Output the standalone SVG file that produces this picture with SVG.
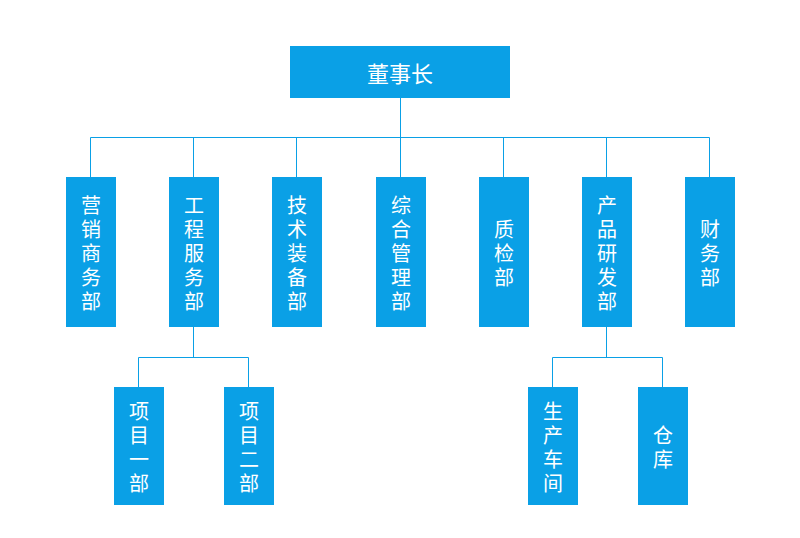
<svg xmlns="http://www.w3.org/2000/svg" width="800" height="538" viewBox="0 0 800 538">
<style>
.n{fill:#0aa0e6}
.t{fill:#fff;font-family:"Noto Sans CJK SC",sans-serif;font-size:20px;text-anchor:middle;dominant-baseline:central}
.c{stroke:#0aa0e6;stroke-width:1;fill:none}
</style>
<rect width="800" height="538" fill="#fff"/>
<g id="connectors" class="c">
<path d="M400.5 98V137.5M90.5 177V137.5H709.5V177M193.5 137.5V177M296.5 137.5V177M400.5 137.5V177M503.5 137.5V177M606.5 137.5V177"/>
<path d="M193.5 327V357.5M138.5 387V357.5H248.5V387"/>
<path d="M606.5 327V357.5M552.5 387V357.5H662.5V387"/>
</g>
<g id="n0"><rect class="n" x="290" y="46" width="220" height="52"/><text class="t" x="400" y="72" style="font-size:22px">董事长</text></g>
<g id="n1"><rect class="n" x="66" y="177" width="50" height="150"/><text class="t"><tspan x="91" y="204">营</tspan><tspan x="91" y="228">销</tspan><tspan x="91" y="252">商</tspan><tspan x="91" y="276">务</tspan><tspan x="91" y="300">部</tspan></text></g>
<g id="n2"><rect class="n" x="169" y="177" width="50" height="150"/><text class="t"><tspan x="194" y="204">工</tspan><tspan x="194" y="228">程</tspan><tspan x="194" y="252">服</tspan><tspan x="194" y="276">务</tspan><tspan x="194" y="300">部</tspan></text></g>
<g id="n3"><rect class="n" x="272" y="177" width="50" height="150"/><text class="t"><tspan x="297" y="204">技</tspan><tspan x="297" y="228">术</tspan><tspan x="297" y="252">装</tspan><tspan x="297" y="276">备</tspan><tspan x="297" y="300">部</tspan></text></g>
<g id="n4"><rect class="n" x="376" y="177" width="50" height="150"/><text class="t"><tspan x="401" y="204">综</tspan><tspan x="401" y="228">合</tspan><tspan x="401" y="252">管</tspan><tspan x="401" y="276">理</tspan><tspan x="401" y="300">部</tspan></text></g>
<g id="n5"><rect class="n" x="479" y="177" width="50" height="150"/><text class="t"><tspan x="504" y="228">质</tspan><tspan x="504" y="252">检</tspan><tspan x="504" y="276">部</tspan></text></g>
<g id="n6"><rect class="n" x="582" y="177" width="50" height="150"/><text class="t"><tspan x="607" y="204">产</tspan><tspan x="607" y="228">品</tspan><tspan x="607" y="252">研</tspan><tspan x="607" y="276">发</tspan><tspan x="607" y="300">部</tspan></text></g>
<g id="n7"><rect class="n" x="685" y="177" width="50" height="150"/><text class="t"><tspan x="710" y="228">财</tspan><tspan x="710" y="252">务</tspan><tspan x="710" y="276">部</tspan></text></g>
<g id="n8"><rect class="n" x="114" y="387" width="50" height="118"/><text class="t"><tspan x="139" y="410">项</tspan><tspan x="139" y="434">目</tspan><tspan x="139" y="458">一</tspan><tspan x="139" y="482">部</tspan></text></g>
<g id="n9"><rect class="n" x="224" y="387" width="50" height="118"/><text class="t"><tspan x="249" y="410">项</tspan><tspan x="249" y="434">目</tspan><tspan x="249" y="458">二</tspan><tspan x="249" y="482">部</tspan></text></g>
<g id="n10"><rect class="n" x="528" y="387" width="50" height="118"/><text class="t"><tspan x="553" y="410">生</tspan><tspan x="553" y="434">产</tspan><tspan x="553" y="458">车</tspan><tspan x="553" y="482">间</tspan></text></g>
<g id="n11"><rect class="n" x="638" y="387" width="50" height="118"/><text class="t"><tspan x="663" y="434">仓</tspan><tspan x="663" y="458">库</tspan></text></g>
</svg>
